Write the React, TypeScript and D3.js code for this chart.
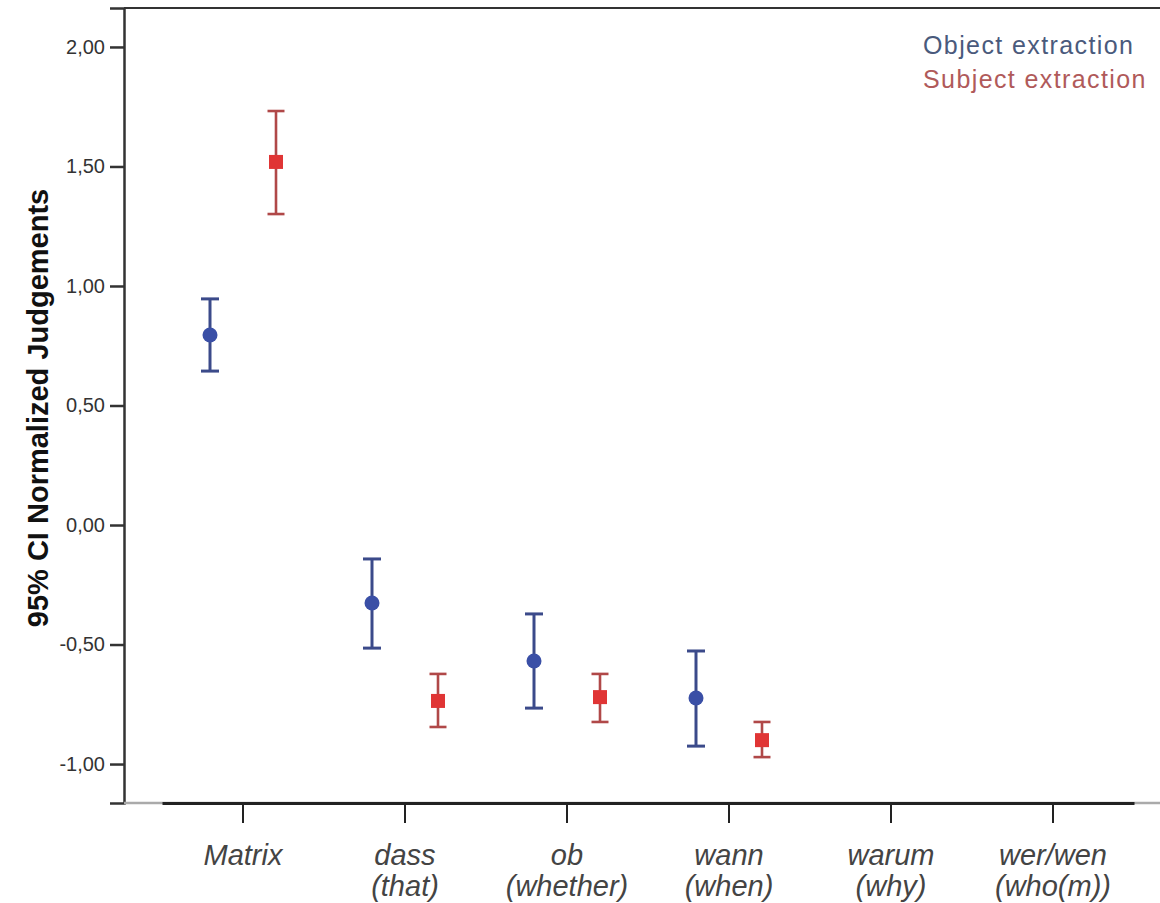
import React, { useEffect, useRef } from 'react';
import * as d3 from 'd3';

// categories (two-line labels)
const categories = ['Matrix', 'dass', 'ob', 'wann', 'warum', 'wer/wen'];
const categoryGloss = ['', '(that)', '(whether)', '(when)', '(why)', '(who(m))'];

// Object extraction: mean + 95% CI
const objMean = [0.795, -0.326, -0.569, -0.724];
const objLow = [0.644, -0.515, -0.766, -0.925];
const objHigh = [0.946, -0.142, -0.372, -0.527];

// Subject extraction: mean + 95% CI
const subjMean = [1.519, -0.736, -0.72, -0.9];
const subjLow = [1.301, -0.845, -0.824, -0.971];
const subjHigh = [1.732, -0.623, -0.623, -0.824];

const yTicks = [-1, -0.5, 0, 0.5, 1, 1.5, 2];
const seriesNames = ['Object extraction', 'Subject extraction'];

const FONT = 'Arial, "Liberation Sans", sans-serif';

const App = () => {
  const ref = useRef<SVGSVGElement>(null);

  useEffect(() => {
    const W = 1160;
    const H = 903;
    const left = 124;
    const top = 8;
    const bottom = 803;

    const svg = d3.select(ref.current);
    svg.selectAll('*').remove();

    const y = d3.scaleLinear().domain([-1.163, 2.163]).range([bottom, top]);
    const x = d3.scaleBand<string>().domain(categories).range([162, 1134]).padding(0);
    const off = 33;

    // frame top line
    svg.append('line')
      .attr('x1', left).attr('x2', W).attr('y1', top).attr('y2', top)
      .attr('stroke', '#333').attr('stroke-width', 2);

    // y axis
    const yAxis = svg.append('g')
      .attr('transform', `translate(${left},0)`)
      .call(d3.axisLeft(y).tickValues(yTicks).tickSize(14).tickPadding(5)
        .tickFormat(d => d3.format('.2f')(d as number).replace('.', ',').replace('−', '-')));
    yAxis.select('.domain').attr('stroke', '#333').attr('stroke-width', 2.5);
    yAxis.selectAll('line').attr('stroke', '#333').attr('stroke-width', 2.5);
    yAxis.selectAll('text')
      .attr('font-family', FONT)
      .attr('font-size', 20).attr('fill', '#333');

    // x axis: gray ends + black band range
    svg.append('line')
      .attr('x1', left).attr('x2', W).attr('y1', bottom).attr('y2', bottom)
      .attr('stroke', '#aaa').attr('stroke-width', 2.5);
    const xAxis = svg.append('g')
      .attr('transform', `translate(0,${bottom})`)
      .call(d3.axisBottom(x).tickSize(20).tickSizeOuter(0).tickFormat(() => ''));
    xAxis.select('.domain').attr('stroke', '#222').attr('stroke-width', 3);
    xAxis.selectAll('line').attr('stroke', '#222').attr('stroke-width', 2);

    const labels = svg.append('g')
      .attr('font-family', FONT)
      .attr('font-style', 'italic').attr('font-size', 29).attr('fill', '#444')
      .attr('text-anchor', 'middle');
    categories.forEach((c, i) => {
      const cx = x(c)! + x.bandwidth() / 2;
      labels.append('text').attr('x', cx).attr('y', 865).text(c);
      if (categoryGloss[i]) labels.append('text').attr('x', cx).attr('y', 896).text(categoryGloss[i]);
    });

    // error bars
    const drawSeries = (mean: number[], low: number[], high: number[], dx: number,
      barColor: string, markColor: string, square: boolean, cap: number, bw: number) => {
      const g = svg.append('g');
      mean.forEach((m, i) => {
        const cx = x(categories[i])! + x.bandwidth() / 2 + dx;
        g.append('line').attr('x1', cx).attr('x2', cx).attr('y1', y(low[i])).attr('y2', y(high[i]))
          .attr('stroke', barColor).attr('stroke-width', bw);
        [low[i], high[i]].forEach(v => {
          g.append('line').attr('x1', cx - cap / 2).attr('x2', cx + cap / 2)
            .attr('y1', y(v)).attr('y2', y(v))
            .attr('stroke', barColor).attr('stroke-width', bw);
        });
        if (square) {
          g.append('rect').attr('x', cx - 7).attr('y', y(m) - 7).attr('width', 14).attr('height', 14)
            .attr('fill', markColor);
        } else {
          g.append('circle').attr('cx', cx).attr('cy', y(m)).attr('r', 7.5).attr('fill', markColor);
        }
      });
    };
    drawSeries(objMean, objLow, objHigh, -off, '#3b4a8a', '#3a4fa6', false, 18, 3);
    drawSeries(subjMean, subjLow, subjHigh, off, '#b04848', '#e03535', true, 17, 2.6);

    // legend
    const legendColors = ['#4a5a7c', '#b05a5a'];
    seriesNames.forEach((n, i) => {
      svg.append('text').attr('x', 923).attr('y', 54 + i * 34)
        .attr('font-family', FONT)
        .attr('font-size', 25).attr('letter-spacing', 1.4)
        .attr('fill', legendColors[i]).text(n);
    });

    // y title
    svg.append('text')
      .attr('transform', `translate(48,${408}) rotate(-90)`)
      .attr('text-anchor', 'middle')
      .attr('font-family', FONT)
      .attr('font-weight', 'bold').attr('font-size', 29).attr('fill', '#111')
      .text('95% CI Normalized Judgements');

    svg.attr('width', W).attr('height', H);
  }, []);

  return (
    <div style={{ position: 'absolute', left: 0, top: 0 }}>
      <svg ref={ref} style={{ display: 'block', background: '#fff' }} />
    </div>
  );
};

export default App;
